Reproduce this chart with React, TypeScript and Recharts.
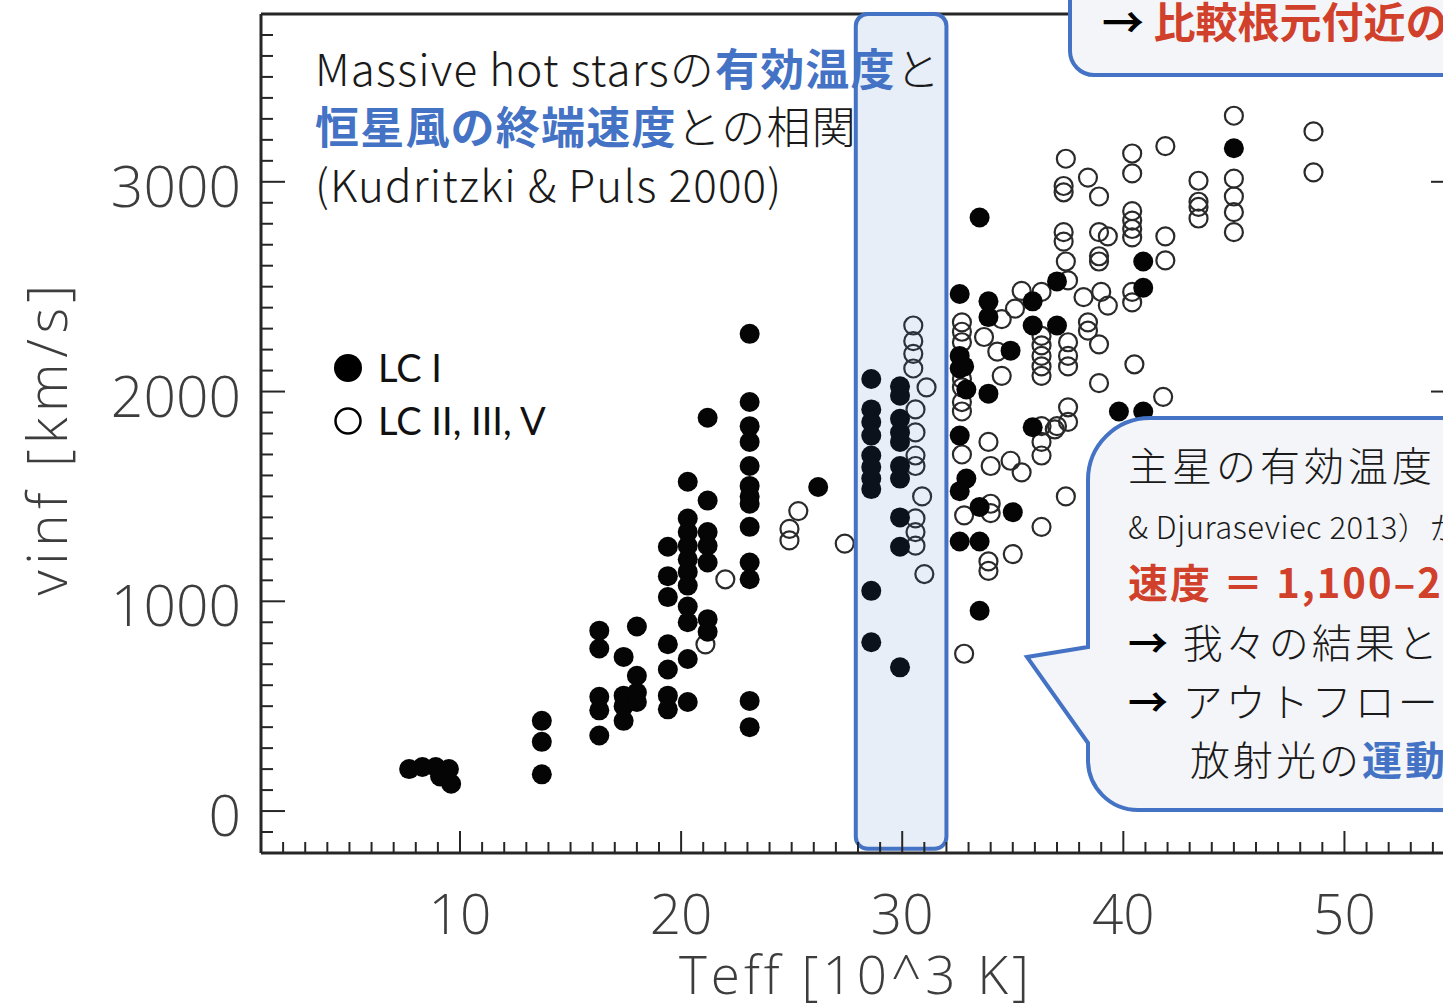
import React from 'react';
import { ScatterChart, Scatter, XAxis, YAxis, ReferenceArea, Legend } from 'recharts';

// Teff [10^3 K], v_inf [km/s] for luminosity class I (filled symbols)
const LC_I: [number, number][] = [
  [7.7, 200], [8.3, 210], [8.9, 210], [9.5, 200], [9.1, 165], [9.6, 130],
  [13.7, 430], [13.7, 330], [13.7, 175],
  [16.3, 860], [16.3, 775], [16.3, 545], [16.3, 480], [16.3, 360],
  [17.4, 735], [17.4, 550], [17.4, 500], [17.4, 430],
  [18.0, 880], [18.0, 645], [18.0, 565], [18.0, 520],
  [19.4, 1260], [19.4, 1120], [19.4, 1020], [19.4, 795], [19.4, 675], [19.4, 550], [19.4, 485],
  [20.3, 1570], [20.3, 1395], [20.3, 1330], [20.3, 1265], [20.3, 1200], [20.3, 1140], [20.3, 1075],
  [20.3, 975], [20.3, 900], [20.3, 725], [20.3, 520],
  [21.2, 1875], [21.2, 1480], [21.2, 1330], [21.2, 1265], [21.2, 1185], [21.2, 915], [21.2, 855],
  [23.1, 2275], [23.1, 1950], [23.1, 1835], [23.1, 1760], [23.1, 1645], [23.1, 1550], [23.1, 1500],
  [23.1, 1465], [23.1, 1355], [23.1, 1185], [23.1, 1105], [23.1, 525], [23.1, 400],
  [26.2, 1545],
  [28.6, 2060], [28.6, 1915], [28.6, 1855], [28.6, 1790], [28.6, 1695], [28.6, 1640], [28.6, 1585],
  [28.6, 1535], [28.6, 1050], [28.6, 805],
  [29.9, 2025], [29.9, 1980], [29.9, 1870], [29.9, 1805], [29.9, 1760], [29.9, 1645], [29.9, 1585],
  [29.9, 1400], [29.9, 1260], [29.9, 685],
  [32.6, 2465], [32.6, 2170], [32.8, 2120], [32.6, 2110], [32.9, 2010], [32.6, 1790], [32.9, 1585],
  [32.6, 1525], [32.6, 1285],
  [33.5, 2830], [33.5, 1450], [33.5, 1285], [33.5, 955],
  [33.9, 2430], [33.9, 2355], [33.9, 1990],
  [34.9, 2195], [35.0, 1425],
  [35.9, 2430], [35.9, 2315], [35.9, 1830],
  [37.0, 2525], [37.0, 2315],
  [39.8, 1905], [40.9, 2620], [40.9, 2495], [40.9, 1905],
  [45.0, 3160],
];

// luminosity classes II, III, V (open symbols)
const LC_OTHER: [number, number][] = [
  [21.1, 795], [22.0, 1105], [24.9, 1345], [24.9, 1290], [25.3, 1430], [27.4, 1275],
  [30.5, 2315], [30.5, 2240], [30.5, 2180], [30.5, 2110], [31.1, 2020], [30.6, 1915], [30.6, 1805],
  [30.6, 1695], [30.6, 1645], [30.9, 1500], [30.6, 1395], [30.6, 1330], [30.6, 1265], [31.0, 1130],
  [32.7, 2330], [32.7, 2285], [32.7, 2235], [32.7, 2060], [32.7, 2020], [32.7, 1950], [32.7, 1905],
  [32.7, 1700], [32.8, 1410], [32.8, 750],
  [33.7, 2260], [33.9, 1760], [34.0, 1645], [34.0, 1465], [34.0, 1420], [33.9, 1190], [33.9, 1145],
  [34.3, 2190], [34.5, 2345], [34.5, 2075],
  [34.9, 1670], [35.0, 1225], [35.1, 2395], [35.4, 2480], [35.4, 1615],
  [36.3, 2475], [36.3, 2265], [36.3, 2220], [36.3, 2170], [36.3, 2120], [36.3, 2075], [36.3, 1835],
  [36.3, 1760], [36.3, 1695], [36.3, 1355],
  [37.3, 2980], [37.3, 2950], [37.4, 3110], [37.3, 2760], [37.3, 2715], [37.4, 2620], [37.5, 2530],
  [37.5, 2235], [37.5, 2170], [37.5, 2120], [37.5, 1925], [37.5, 1855], [37.0, 1835], [36.9, 1820],
  [37.4, 1500],
  [38.2, 2450], [38.4, 3020], [38.4, 2330], [38.4, 2290],
  [38.9, 2930], [38.9, 2760], [38.9, 2645], [38.9, 2620], [39.0, 2475], [38.9, 2225], [38.9, 2040],
  [39.3, 2740], [39.3, 2410],
  [40.4, 3135], [40.4, 3040], [40.4, 2860], [40.4, 2815], [40.4, 2775], [40.4, 2735], [40.4, 2475],
  [40.4, 2425], [40.5, 2130],
  [41.9, 3170], [41.9, 2740], [41.9, 2625], [41.8, 1975],
  [43.4, 3005], [43.4, 2905], [43.4, 2880], [43.4, 2825],
  [45.0, 3315], [45.0, 3015], [45.0, 2930], [45.0, 2855], [45.0, 2760],
  [48.6, 3240], [48.6, 3045],
];

const X_DOMAIN = [1, 55];
const Y_DOMAIN = [-200, 3800];
const X_LABELS = [10, 20, 30, 40, 50];
const Y_LABELS = [0, 1000, 2000, 3000];
// minor ticks every 1 kK and every 100 km/s
const X_TICKS = Array.from({ length: 55 }, (_, i) => i + 1);
const Y_TICKS = Array.from({ length: 41 }, (_, i) => -200 + i * 100);

// highlighted temperature range
const BAND = { from: 27.9, to: 32.0, bottom: -180, top: 3800 };

const FRAME = '#262626';
const LABEL = '#3d3d3d';
const BLUE = '#4472C4';
const RED = '#D1402A';
const PANEL = '#F4F5F8';
const JP = '"Noto Sans CJK JP", "Noto Sans", sans-serif';
const AXIS_FONT = '"Open Sans", "Liberation Sans", sans-serif';

const toPoints = (rows: [number, number][]) => rows.map(([teff, vinf]) => ({ teff, vinf }));

const FilledDot = (p: any) => <circle cx={p.cx} cy={p.cy} r={10} fill="#050505" />;
const OpenDot = (p: any) => (
  <circle cx={p.cx} cy={p.cy} r={9} fill="none" stroke="#2a2a2a" strokeWidth={2.2} />
);

const isMajor = (v: number, step: number) => v % step === 0;

const BottomTick = ({ x, y, payload }: any) => {
  const v = payload.value;
  return (
    <g>
      <line x1={x} x2={x} y1={y} y2={y - (isMajor(v, 10) ? 22 : 11)} stroke={FRAME} strokeWidth={2} />
      {X_LABELS.includes(v) && (
        <text x={x} y={y + 59} textAnchor="middle" dominantBaseline="central"
          fontFamily={AXIS_FONT} fontWeight={300} fontSize={55} fill={LABEL}>{v}</text>
      )}
    </g>
  );
};

const TopTick = ({ x, y, payload }: any) => (
  <line x1={x} x2={x} y1={y} y2={y + (isMajor(payload.value, 10) ? 22 : 11)} stroke={FRAME} strokeWidth={2} />
);

const LeftTick = ({ x, y, payload }: any) => {
  const v = payload.value;
  return (
    <g>
      <line x1={x} x2={x + (isMajor(v, 1000) ? 24 : 12)} y1={y} y2={y} stroke={FRAME} strokeWidth={2} />
      {Y_LABELS.includes(v) && (
        <text x={x - 20} y={y + 3} textAnchor="end" dominantBaseline="central"
          fontFamily={AXIS_FONT} fontWeight={300} fontSize={57} fill={LABEL}>{v}</text>
      )}
    </g>
  );
};

const RightTick = ({ x, y, payload }: any) => (
  <line x1={x} x2={x - (isMajor(payload.value, 1000) ? 24 : 12)} y1={y} y2={y} stroke={FRAME} strokeWidth={2} />
);

const XTitle = ({ viewBox }: any) => (
  <text x={viewBox.x + viewBox.width / 2 - 2} y={viewBox.y + 120} textAnchor="middle" dominantBaseline="central"
    fontFamily={AXIS_FONT} fontWeight={300} fontSize={53} letterSpacing={4} fill={LABEL}>
    Teff [10^3 K]
  </text>
);

const YTitle = ({ viewBox }: any) => {
  const cx = viewBox.x + viewBox.width - 216;
  const cy = viewBox.y + viewBox.height / 2 + 4;
  return (
    <text x={cx} y={cy} transform={`rotate(-90 ${cx} ${cy})`} textAnchor="middle" dominantBaseline="central"
      fontFamily={AXIS_FONT} fontWeight={300} fontSize={55} letterSpacing={5.5} fill={LABEL}>
      vinf [km/s]
    </text>
  );
};

const LegendBox = () => (
  <div style={{ fontFamily: 'Lato, "Noto Sans", sans-serif', fontSize: 38, color: '#111', lineHeight: '53px' }}>
    <div style={{ display: 'flex', alignItems: 'center', height: 53 }}>
      <svg width={30} height={30}><circle cx={15} cy={15} r={14} fill="#000" /></svg>
      <span style={{ marginLeft: 15 }}>LC I</span>
    </div>
    <div style={{ display: 'flex', alignItems: 'center', height: 53 }}>
      <svg width={30} height={30}><circle cx={15} cy={15} r={12.5} fill="none" stroke="#000" strokeWidth={2.5} /></svg>
      <span style={{ marginLeft: 15 }}>LC II, III, V</span>
    </div>
  </div>
);

// one line of annotation text, placed by its vertical centre
const TextLine = ({ x, cy, size, spacing = 0, weight = 400, children }: any) => (
  <div style={{
    position: 'absolute', left: x, top: cy - size * 0.7 - 2, height: size * 1.4, lineHeight: `${size * 1.4}px`,
    fontFamily: JP, fontSize: size, fontWeight: weight, letterSpacing: spacing, whiteSpace: 'nowrap', color: '#1a1a1a',
  }}>
    {children}
  </div>
);

const Blue = ({ children }: any) => <span style={{ color: BLUE, fontWeight: 700 }}>{children}</span>;
const Red = ({ children }: any) => <span style={{ color: RED, fontWeight: 700 }}>{children}</span>;
const Arrow = () => <span style={{ fontWeight: 700, color: '#000' }}>→</span>;

export default function App() {
  return (
    <div style={{ position: 'fixed', left: 0, top: 0, width: 1443, height: 1008, overflow: 'hidden', background: '#fff' }}>
      <div style={{ position: 'absolute', left: 0, top: 0 }}>
        <ScatterChart width={1500} height={1008} margin={{ top: 13, right: 44, bottom: 154, left: 260 }}>
          <XAxis dataKey="teff" type="number" domain={X_DOMAIN} ticks={X_TICKS} interval={0} allowDataOverflow
            height={1} tickSize={0} tickMargin={0} tick={<BottomTick />}
            axisLine={{ stroke: FRAME, strokeWidth: 3 }} label={<XTitle />} />
          <XAxis xAxisId="top" orientation="top" type="number" domain={X_DOMAIN} ticks={X_TICKS} interval={0}
            allowDataOverflow height={1} tickSize={0} tickMargin={0} tick={<TopTick />}
            axisLine={{ stroke: FRAME, strokeWidth: 3 }} />
          <YAxis dataKey="vinf" type="number" domain={Y_DOMAIN} ticks={Y_TICKS} interval={0} allowDataOverflow
            width={1} tickSize={0} tickMargin={0} tick={<LeftTick />}
            axisLine={{ stroke: FRAME, strokeWidth: 3 }} label={<YTitle />} />
          <YAxis yAxisId="right" orientation="right" type="number" domain={Y_DOMAIN} ticks={Y_TICKS} interval={0}
            allowDataOverflow width={1} tickSize={0} tickMargin={0} tick={<RightTick />}
            axisLine={{ stroke: FRAME, strokeWidth: 3 }} />
          <Scatter name="LC II, III, V" data={toPoints(LC_OTHER)} shape={OpenDot} isAnimationActive={false} />
          <Scatter name="LC I" data={toPoints(LC_I)} shape={FilledDot} isAnimationActive={false} />
          <ReferenceArea x1={BAND.from} x2={BAND.to} y1={BAND.bottom} y2={BAND.top}
            fill={BLUE} fillOpacity={0.12} stroke={BLUE} strokeWidth={4} radius={12}
            ifOverflow="visible" zIndex={900} />
          <Legend layout="horizontal" verticalAlign="middle" align="center" content={<LegendBox />}
            wrapperStyle={{ position: 'absolute', left: 333, top: 341, width: 300, height: 106 }} />
        </ScatterChart>
      </div>

      {/* chart title */}
      <TextLine x={315} cy={70} size={44} spacing={1.2} weight={300}>Massive hot starsの<Blue>有効温度</Blue>と</TextLine>
      <TextLine x={315} cy={128} size={44} spacing={1.2} weight={300}><Blue>恒星風の終端速度</Blue>との相関</TextLine>
      <TextLine x={315} cy={186} size={44} spacing={1.2} weight={300}>(Kudritzki &amp; Puls 2000)</TextLine>

      {/* callout frames */}
      <svg width={1443} height={1008} style={{ position: 'absolute', left: 0, top: 0, pointerEvents: 'none' }}>
        <rect x={1070} y={-40} width={500} height={115} rx={24} fill={PANEL} stroke={BLUE} strokeWidth={4} />
        <path
          d="M 1150 418 L 1500 418 L 1500 810 L 1138 810 A 50 50 0 0 1 1088 760 L 1088 743 L 1027 657 L 1088 647 L 1088 480 A 62 62 0 0 1 1150 418 Z"
          fill={PANEL} stroke={BLUE} strokeWidth={4} strokeLinejoin="miter" />
      </svg>

      <TextLine x={1102} cy={22} size={42}><Arrow /> <Red>比較根元付近の</Red></TextLine>

      <TextLine x={1128} cy={466} size={40} spacing={4} weight={300}>主星の有効温度</TextLine>
      <TextLine x={1128} cy={528} size={31} spacing={0.5} weight={300}>&amp; Djuraseviec 2013）から</TextLine>
      <TextLine x={1128} cy={583} size={40} spacing={2}><Red>速度 ＝ 1,100–2,</Red></TextLine>
      <TextLine x={1128} cy={643} size={40} spacing={3} weight={300}><Arrow /> 我々の結果と</TextLine>
      <TextLine x={1128} cy={702} size={40} spacing={3} weight={300}><Arrow /> アウトフロー</TextLine>
      <TextLine x={1190} cy={760} size={40} spacing={3} weight={300}>放射光の<Blue>運動</Blue></TextLine>
    </div>
  );
}
